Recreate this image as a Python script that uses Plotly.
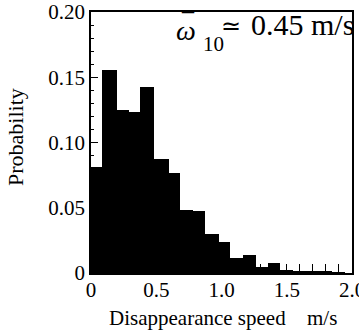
import plotly.graph_objects as go

# Histogram of disappearance speed (m/s)
bin_edges = [-0.01, 0.087, 0.199, 0.29, 0.377, 0.485, 0.594, 0.684, 0.78, 0.875,
             0.977, 1.067, 1.168, 1.266, 1.36, 1.449, 1.55, 1.65, 1.75, 1.85, 1.95]
probability = [0.0815, 0.1555, 0.125, 0.123, 0.1423, 0.087, 0.0765, 0.0485, 0.0478, 0.030,
               0.024, 0.0117, 0.0138, 0.0044, 0.0074, 0.002, 0.0012, 0.001, 0.0008, 0.0006]

x_tick_vals = [0, 0.5, 1.0, 1.5, 2.0]
x_tick_text = ["0", "0.5", "1.0", "1.5", "2.0"]
y_tick_vals = [0, 0.05, 0.10, 0.15, 0.20]
y_tick_text = ["0", "0.05", "0.10", "0.15", "0.20"]

centers = [(a + b) / 2 for a, b in zip(bin_edges[:-1], bin_edges[1:])]
widths = [b - a for a, b in zip(bin_edges[:-1], bin_edges[1:])]

FONT = "Liberation Serif"
W, H = 359, 332
ML, MR, MT, MB = 91, 7, 12, 59
PW, PH = W - ML - MR, H - MT - MB


def px(x):
    return (x - ML) / PW


def py(y):
    return (H - MB - y) / PH


fig = go.Figure()
fig.add_trace(go.Bar(
    x=centers, y=probability, width=widths,
    marker=dict(color="black", line=dict(width=0)),
    showlegend=False, hoverinfo="skip",
))

ann = []
# axis titles
ann.append(dict(xref="paper", yref="paper", x=px(15), y=py(137), text="Probability",
                textangle=-90, showarrow=False, xanchor="center", yanchor="middle",
                font=dict(family=FONT, size=22)))
ann.append(dict(xref="paper", yref="paper", x=px(197), y=py(318), text="Disappearance speed",
                showarrow=False, xanchor="center", yanchor="middle",
                font=dict(family=FONT, size=21)))
ann.append(dict(xref="paper", yref="paper", x=px(322), y=py(318), text="m/s",
                showarrow=False, xanchor="center", yanchor="middle",
                font=dict(family=FONT, size=21)))
# mean-speed label
ann.append(dict(xref="paper", yref="paper", x=px(186), y=py(30), text="<i>ω</i>",
                showarrow=False, xanchor="center", yanchor="middle",
                font=dict(family=FONT, size=28)))
ann.append(dict(xref="paper", yref="paper", x=px(188), y=py(22), text="¯",
                showarrow=False, xanchor="center", yanchor="middle",
                font=dict(family=FONT, size=24)))
ann.append(dict(xref="paper", yref="paper", x=px(213), y=py(44), text="10",
                showarrow=False, xanchor="center", yanchor="middle",
                font=dict(family=FONT, size=21)))
ann.append(dict(xref="paper", yref="paper", x=px(231), y=py(26), text="≃",
                showarrow=False, xanchor="center", yanchor="middle",
                font=dict(family=FONT, size=24)))
ann.append(dict(xref="paper", yref="paper", x=px(356), y=py(25), text="0.45 m/s",
                showarrow=False, xanchor="right", yanchor="middle",
                font=dict(family=FONT, size=30)))

fig.update_layout(
    width=W, height=H,
    margin=dict(l=ML, r=MR, t=MT, b=MB),
    paper_bgcolor="white", plot_bgcolor="white",
    font=dict(family=FONT, color="black", size=21),
    bargap=0,
    xaxis=dict(
        range=[0, 2.0], tickvals=x_tick_vals, ticktext=x_tick_text,
        ticks="inside", ticklen=9, tickwidth=1, tickcolor="black",
        minor=dict(dtick=0.1, tick0=0, ticks="inside", ticklen=9, tickwidth=1, tickcolor="black"),
        showline=True, linecolor="black", linewidth=1.5, mirror=True,
        showgrid=False, zeroline=False, automargin=False,
        ticklabeloverflow="allow", ticklabelstandoff=-3,
        tickfont=dict(family=FONT, size=21),
    ),
    yaxis=dict(
        range=[0, 0.20], tickvals=y_tick_vals, ticktext=y_tick_text,
        ticks="inside", ticklen=7, tickwidth=1, tickcolor="black",
        minor=dict(dtick=0.01, tick0=0, ticks="inside", ticklen=3, tickwidth=1, tickcolor="black"),
        showline=True, linecolor="black", linewidth=1.5, mirror=True,
        showgrid=False, zeroline=False, automargin=False,
        tickfont=dict(family=FONT, size=21),
    ),
    annotations=ann,
)

fig.write_html("out.html", config={"displayModeBar": False},
               post_script="document.body.style.margin='0';")
